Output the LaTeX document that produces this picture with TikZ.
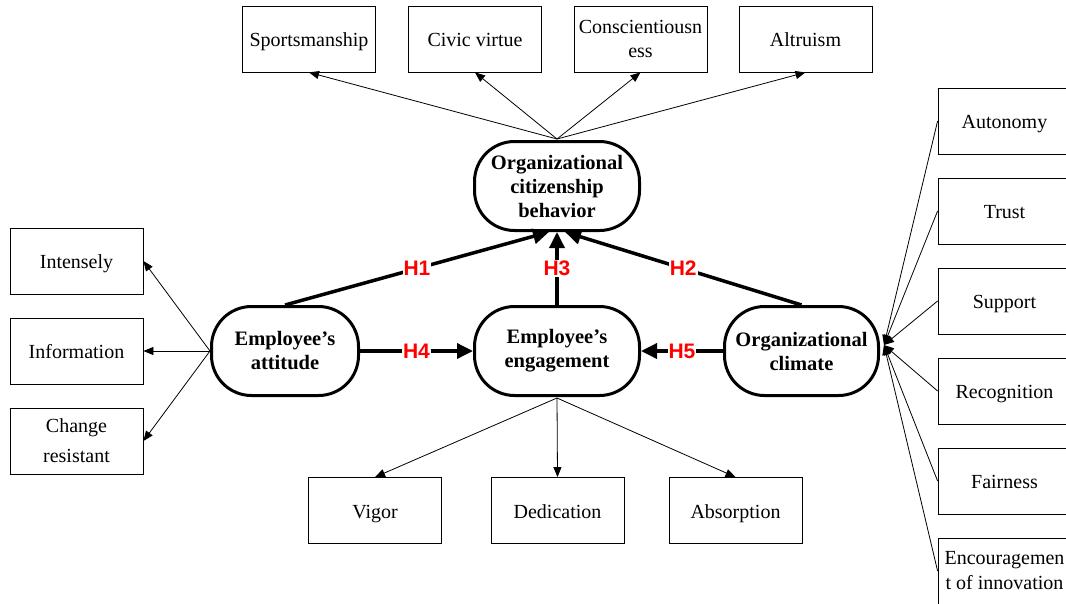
\documentclass[tikz,border=0pt]{standalone}
\usepackage{fontspec}
\setmainfont{Liberation Serif}
\newfontfamily\hfont{Liberation Sans}
\usetikzlibrary{arrows.meta}
\begin{document}
\begin{tikzpicture}[x=1pt,y=-1pt,
 mbox/.style={draw, line width=0.8pt, minimum width=133pt, minimum height=66pt, inner sep=0pt, align=center, font=\fontsize{20}{24}\selectfont},
 box/.style={mbox, text height=15pt, text depth=0pt},
 construct/.style={draw, line width=3pt, rounded corners=40pt, minimum width=165pt, minimum height=89pt, inner sep=0pt, align=center, font=\fontsize{20.5}{24}\selectfont\bfseries},
 thinarrow/.style={line width=0.8pt, -{Triangle[length=10pt,width=8pt]}},
 thickarrow/.style={line width=3.5pt, -{Triangle[length=16pt,width=15pt]}},
 hlab/.style={text=red, font=\hfont\bfseries\fontsize{21}{24}\selectfont, fill=white, inner sep=1pt}]
\useasboundingbox (0,0) rectangle (1066,603);
\clip (0,0) rectangle (1066,603);
\fill[white] (0,0) rectangle (1066,603);

% top boxes
\node[box] (sport) at (309,39) {Sportsmanship};
\node[box] (civic) at (475,39) {Civic virtue};
\node[mbox] (consc) at (640.5,39) {Conscientiousn\\ess};
\node[box] (altru) at (805.5,39) {Altruism};

% constructs
\node[construct] (ocb) at (557,186) {Organizational\\citizenship\\behavior};
\node[construct, minimum width=147pt] (att) at (285,351) {Employee's\\attitude};
\node[construct] (eng) at (557,351) {Employee's\\engagement};
\node[construct, minimum width=154pt] (clim) at (801.5,351) {Organizational\\climate};

% left boxes
\node[box] (int) at (76.5,261) {Intensely};
\node[box] (inf) at (76.5,351) {Information};
\node[mbox, font=\fontsize{20}{30}\selectfont] (chg) at (76.5,441) {Change\\resistant};

% bottom boxes
\node[box] (vig) at (375,510.5) {Vigor};
\node[box] (ded) at (557.5,510.5) {Dedication};
\node[box] (abso) at (735.5,510.5) {Absorption};

% right boxes
\node[box] (aut) at (1004.5,121) {Autonomy};
\node[box] (tru) at (1004.5,211) {Trust};
\node[box] (sup) at (1004.5,301) {Support};
\node[box] (rec) at (1004.5,391) {Recognition};
\node[box] (fai) at (1004.5,481) {Fairness};
\node[mbox, font=\fontsize{20}{25}\selectfont] (enc) at (1004.5,571) {Encouragemen\\t of innovation};

% coordinates
\coordinate (ocbtop) at (557,139);
\coordinate (engbot) at (557,398);
\coordinate (attw) at (210,351);
\coordinate (climE) at (884,345);

% OCB dimensions
\foreach \b in {sport,civic,consc,altru} \draw[thinarrow] (ocbtop) -- (\b.south);
% engagement dimensions
\foreach \b in {vig,ded,abso} \draw[thinarrow] (engbot) -- (\b.north);
% attitude dimensions
\foreach \b in {int,inf,chg} \draw[thinarrow] (attw) -- (\b.east);
% climate dimensions
\foreach \b in {aut,tru,sup,rec,fai,enc} \draw[thinarrow] (\b.west) -- (climE);

% hypotheses
\draw[thickarrow] (att.north) -- ([xshift=-8pt]ocb.south) node[hlab, pos=0.5] {H1};
\draw[thickarrow] (clim.north) -- ([xshift=8pt]ocb.south) node[hlab, pos=0.5] {H2};
\draw[thickarrow] (eng.north) -- (ocb.south) node[hlab, pos=0.5] {H3};
\draw[thickarrow] (att.east) -- (eng.west) node[hlab, pos=0.5] {H4};
\draw[thickarrow] (clim.west) -- (eng.east) node[hlab, pos=0.5] {H5};
\end{tikzpicture}
\end{document}
